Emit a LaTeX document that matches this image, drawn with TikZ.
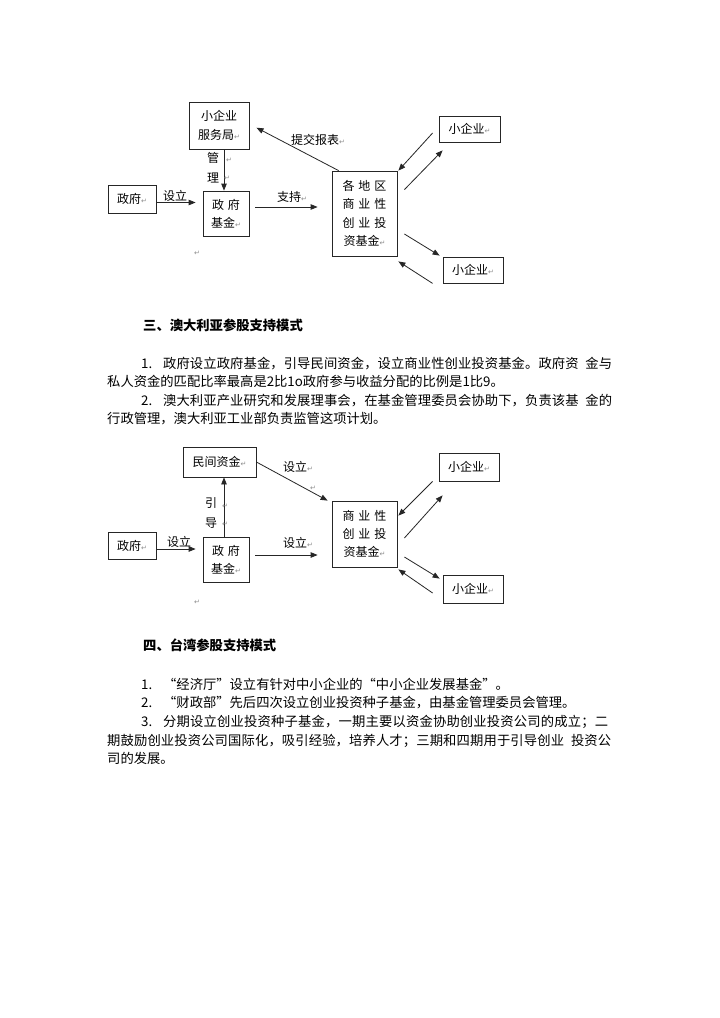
\documentclass[tikz,border=0pt]{standalone}
\usepackage{fontspec}
\setmainfont{Noto Sans CJK SC}
\newfontfamily\retfont{DejaVu Sans}
\usetikzlibrary{arrows.meta}
\newcommand\pmark{{\retfont\fontsize{7}{7}\selectfont\textcolor{black!45}{↵}}}
\newcommand\txtsize{\fontsize{13.3}{18.8}\selectfont}
\ExplSyntaxOn
\NewDocumentCommand \spreadline { m m }
  { \makebox[#1][s]{ \tl_map_inline:nn {#2} { ##1 \hskip 0pt plus 1fil } \unskip } }
\ExplSyntaxOff

\begin{document}
\begin{tikzpicture}[x=1pt,y=-1pt,>={Triangle[length=7pt,width=5.5pt]},
  box/.style={draw=black!85,line width=0.8pt,inner sep=0pt,align=center,font=\fontsize{12}{18.3}\selectfont},
  arr/.style={->,draw=black!85,line width=0.8pt},
  lab/.style={inner sep=0pt,font=\fontsize{12}{19.5}\selectfont},
  txt/.style={anchor=west,inner sep=0pt,font=\txtsize},
  head/.style={anchor=west,inner sep=0pt,font=\txtsize\bfseries}]
\fill[white] (0,0) rectangle (720,1018);
\useasboundingbox (0,0) rectangle (720,1018);

\node[box,minimum width=60pt,minimum height=47pt] (fwj) at (219,125.5) {小企业\\服务局\pmark};
\node[box,minimum width=48pt,minimum height=28pt] (zf1) at (132,199) {政府\pmark};
\node[box,minimum width=46pt,minimum height=45pt] (jj1) at (226,213.5) {政\hspace{4pt}府\\基金\pmark};
\node[box,minimum width=65pt,minimum height=85pt] (gd) at (364.5,213.5) {各\hspace{4pt}地\hspace{4pt}区\\商\hspace{4pt}业\hspace{4pt}性\\创\hspace{4pt}业\hspace{4pt}投\\资基金\pmark};
\node[box,minimum width=61pt,minimum height=26pt] (xq1) at (469.5,129) {小企业\pmark};
\node[box,minimum width=60pt,minimum height=26pt] (xq2) at (473,270) {小企业\pmark};
\draw[arr,shorten >=7pt] ([yshift=-3.5pt]zf1.east) -- ([yshift=-3.5pt]zf1.east -| jj1.west);
\node[lab] (sl1) at (175,196) {设立};
\draw[arr] ([xshift=-2pt]jj1.north |- fwj.south) -- ([xshift=-2pt]jj1.north);
\node[lab,align=center] (gl) at (213,167.5) {管\\理};
\node[inner sep=0pt] (gm1) at (229,160) {\pmark};
\node[inner sep=0pt] (gm2) at (227,178) {\pmark};
\draw[arr,shorten <=6pt,shorten >=14pt] ([yshift=6.5pt]jj1.east) -- ([yshift=6.5pt]gd.west);
\node[lab] (zc) at (292,197) {支持\pmark};
\draw[arr,shorten >=8pt] ([xshift=7pt]gd.north west) -- ([yshift=1.5pt]fwj.east);
\node[lab] (tj) at (318,140) {提交报表\pmark};
\draw[arr] ([xshift=-6pt,yshift=-4pt]xq1.west) -- ([xshift=1pt]gd.north east);
\draw[arr] ([xshift=7pt,yshift=-19pt]gd.north east) -- ([xshift=4pt,yshift=-8pt]xq1.south west);
\draw[arr] ([xshift=7pt,yshift=-20.5pt]gd.east) -- ([xshift=-3pt,yshift=1pt]xq2.north west);
\draw[arr] ([xshift=-10pt]xq2.south west) -- ([xshift=1pt,yshift=-5pt]gd.south east);
\node[inner sep=0pt] (p1) at (197,253) {\pmark};

\node[head] (h3) at (143,325) {三、澳大利亚参股支持模式};
\node[txt] (t31) at (141,363.5) {\makebox[22pt][l]{1.}\spreadline{449pt}{政府设立政府基金，引导民间资金，设立商业性创业投资基金。政府资\enspace 金与}};
\node[txt] (t32) at (107,381.7) {私人资金的匹配比率最高是2比1o政府参与收益分配的比例是1比9。};
\node[txt] (t33) at (141,400.7) {\makebox[22pt][l]{2.}\spreadline{449pt}{澳大利亚产业研究和发展理事会，在基金管理委员会协助下，负责该基\enspace 金的}};
\node[txt] (t34) at (107,418.5) {行政管理，澳大利亚工业部负责监管这项计划。};

\node[box,minimum width=73pt,minimum height=30pt] (mj) at (219.5,462) {民间资金\pmark};
\node[box,minimum width=48pt,minimum height=27pt] (zf2) at (132,545.5) {政府\pmark};
\node[box,minimum width=46pt,minimum height=45pt] (jj2) at (226,559.5) {政\hspace{4pt}府\\基金\pmark};
\node[box,minimum width=65pt,minimum height=66pt] (sy) at (364.5,534) {商\hspace{4pt}业\hspace{4pt}性\\创\hspace{4pt}业\hspace{4pt}投\\资基金\pmark};
\node[box,minimum width=60pt,minimum height=28pt] (xq3) at (469,467) {小企业\pmark};
\node[box,minimum width=60pt,minimum height=28pt] (xq4) at (473,589) {小企业\pmark};
\draw[arr,shorten >=7pt] ([yshift=-3.5pt]zf2.east) -- ([yshift=-3.5pt]zf2.east -| jj2.west);
\node[lab] (sl2) at (179,541.7) {设立};
\draw[arr] ([xshift=-2pt]jj2.north) -- ([xshift=-2pt]jj2.north |- mj.south);
\node[lab,align=center] (yd) at (211,513) {引\\导};
\node[inner sep=0pt] (ym1) at (225,506) {\pmark};
\node[inner sep=0pt] (ym2) at (225,524) {\pmark};
\draw[arr] (mj.east) -- ([xshift=-4pt]sy.north west);
\node[lab] (sl3) at (298,466.7) {设立\pmark};
\node[inner sep=0pt] (p2) at (313,488) {\pmark};
\draw[arr,shorten <=6pt,shorten >=14pt] ([yshift=4.5pt]jj2.east) -- ([yshift=4.5pt]jj2.east -| sy.west);
\node[lab] (sl4) at (298,543) {设立\pmark};
\draw[arr] ([xshift=-6pt]xq3.south west) -- ([xshift=1pt,yshift=-15pt]sy.north east);
\draw[arr] ([xshift=7pt,yshift=-4pt]sy.east) -- ([xshift=4pt,yshift=-14pt]xq3.south west);
\draw[arr] ([xshift=7pt,yshift=-23pt]sy.east) -- ([xshift=-3pt,yshift=-4pt]xq4.north west);
\draw[arr] ([xshift=-10pt,yshift=-4pt]xq4.west) -- ([xshift=1pt,yshift=-2pt]sy.south east);
\node[inner sep=0pt] (p3) at (197,602) {\pmark};

\node[head] (h4) at (143,645) {四、台湾参股支持模式};
\node[txt] (t41) at (141,684) {\makebox[22pt][l]{1.}“经济厅”设立有针对中小企业的“中小企业发展基金”。};
\node[txt] (t42) at (141,702.3) {\makebox[22pt][l]{2.}“财政部”先后四次设立创业投资种子基金，由基金管理委员会管理。};
\node[txt] (t43) at (141,721.5) {\makebox[22pt][l]{3.}\spreadline{445pt}{分期设立创业投资种子基金，一期主要以资金协助创业投资公司的成立；二}};
\node[txt] (t44) at (107,740.5) {\spreadline{504pt}{期鼓励创业投资公司国际化，吸引经验，培养人才；三期和四期用于引导创业\enspace 投资公}};
\node[txt] (t45) at (107,758.3) {司的发展。};
\end{tikzpicture}
\end{document}
